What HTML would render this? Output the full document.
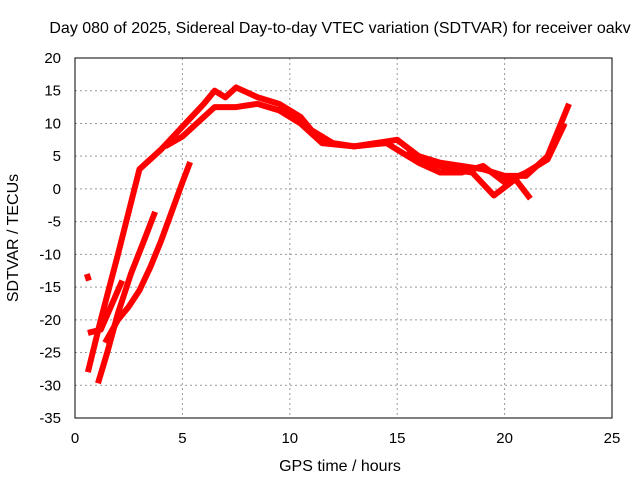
<!DOCTYPE html>
<html><head><meta charset="utf-8"><style>
body{margin:0;background:#fff}
svg text{font-family:"Liberation Sans",sans-serif;font-size:15px;fill:#000}
</style></head><body>
<svg id="c" width="640" height="480">
<text x="340" y="33" text-anchor="middle" style="font-size:16px">Day 080 of 2025, Sidereal Day-to-day VTEC variation (SDTVAR) for receiver oakv</text>
<text x="340" y="471" text-anchor="middle" style="font-size:16px">GPS time / hours</text>
<text transform="translate(18,238) rotate(-90)" text-anchor="middle" style="font-size:16px">SDTVAR / TECUs</text>
<g id="grid"></g><g id="series"></g>
<rect x="75" y="58" width="537" height="360" fill="none" stroke="#000"/>
</svg>
<script>
const xTicks=[0,5,10,15,20,25];
const yTicks=[20,15,10,5,0,-5,-10,-15,-20,-25,-30,-35];
const s1x=[0.6,1.2,2,3,4,5,6,6.5,7,7.5,8.5,9.5,10.5,11,12,13,14,15,16,17,18,19,20,21,22,23];
const s1y=[-28,-20,-10,3,6,9.5,13,15,14,15.5,14,13,11,9,7,6.5,7,7.5,5,4,3.5,3,2,2,5,13];
const s2x=[4.2,5,6,6.5,7.5,8.5,9.5,10.5,11.5,13,14.5,15,16,17,18,19,20,21,22,22.8];
const s2y=[6.5,8,11,12.5,12.5,13,12,10,7,6.5,7,6,4,2.5,2.5,3.5,1,2.5,4.5,10];
const s3x=[1.07,1.5,2,2.6,3.2,3.73];
const s3y=[-29.7,-25,-19,-13,-8,-3.5];
const s4x=[1.4,2,2.5,3,3.5,4,4.5,5,5.36];
const s4y=[-23.5,-20,-18,-15.5,-12,-8,-3.5,1,4.1];
const s5x=[0.6,1.2,1.8,2.2];
const s5y=[-22,-21.5,-17,-14];
const s6x=[15.5,16.5,17.5,18.5,19.5,20.5,21.2];
const s6y=[6,4,3,2.5,-1,1.5,-1.5];
const s7x=[0.55,0.65];
const s7y=[-13,-14];
const sx=v=>75+v*537/25, sy=v=>58+(20-v)*360/55;
const NS="http://www.w3.org/2000/svg";
const g=document.getElementById('grid'), gs=document.getElementById('series');
xTicks.forEach(t=>{
 if(t>0&&t<25){const l=document.createElementNS(NS,'line');
 
 
 l.setAttribute('x1',sx(t));l.setAttribute('x2',sx(t));l.setAttribute('y1',58);l.setAttribute('y2',418);
 l.setAttribute('stroke','#999');l.setAttribute('stroke-dasharray','2,3');g.appendChild(l);}
 const tx=document.createElementNS(NS,'text');
 
 
 tx.setAttribute('x',sx(t));tx.setAttribute('y',443);tx.setAttribute('text-anchor','middle');tx.textContent=t;g.appendChild(tx);
});
yTicks.forEach(t=>{
 if(t<20&&t>-35){const l=document.createElementNS(NS,'line');
 
 
 l.setAttribute('x1',75);l.setAttribute('x2',612);l.setAttribute('y1',sy(t));l.setAttribute('y2',sy(t));
 l.setAttribute('stroke','#999');l.setAttribute('stroke-dasharray','2,3');g.appendChild(l);}
 const tx=document.createElementNS(NS,'text');
 
 
 tx.setAttribute('x',61);tx.setAttribute('y',sy(t)+5);tx.setAttribute('text-anchor','end');tx.textContent=t;g.appendChild(tx);
});
[[s1x,s1y],[s2x,s2y],[s3x,s3y],[s4x,s4y],[s5x,s5y],[s6x,s6y],[s7x,s7y]].forEach(([xs,ys])=>{
 const p=document.createElementNS(NS,'polyline');
 
 
 p.setAttribute('points',xs.map((x,i)=>sx(x)+','+sy(ys[i])).join(' '));
 p.setAttribute('fill','none');p.setAttribute('stroke','#f00');p.setAttribute('stroke-width','6');
 p.setAttribute('stroke-linejoin','round');gs.appendChild(p);
});
</script>
</body></html>
